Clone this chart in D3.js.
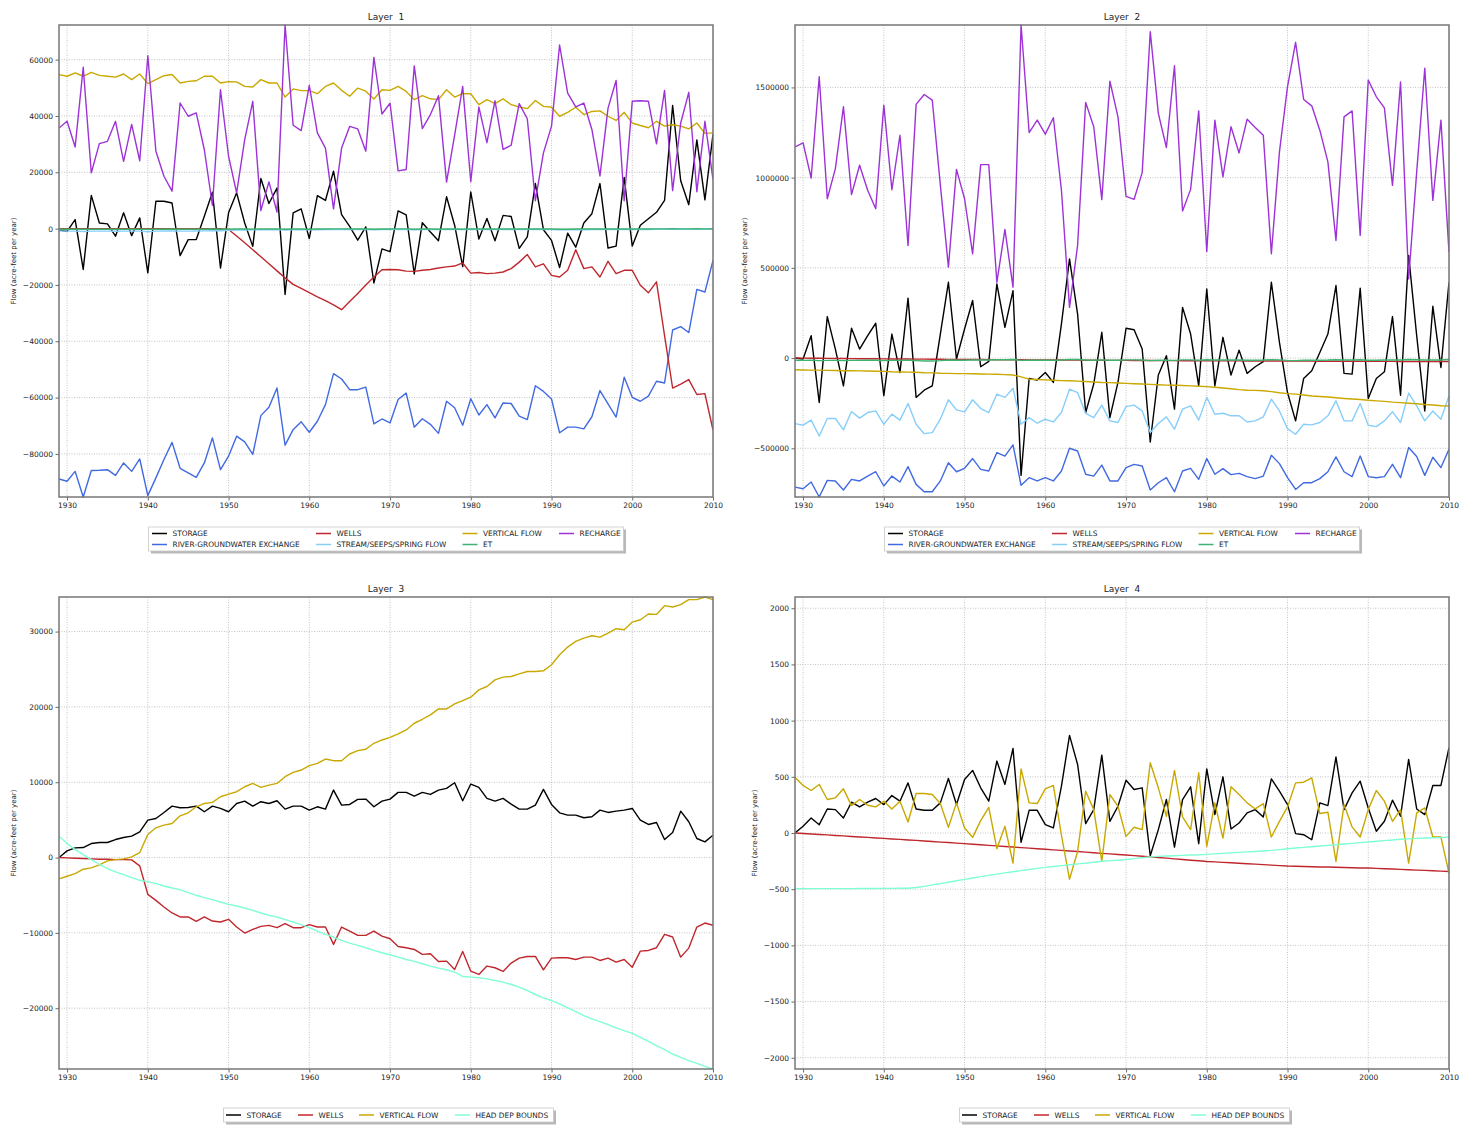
<!DOCTYPE html>
<html><head><meta charset="utf-8">
<script src="https://cdn.jsdelivr.net/npm/d3@7"></script>
<style>
body{margin:0;background:#fff}
text{font-family:"DejaVu Sans",sans-serif;fill:#222}
</style>
</head><body>
<svg id="chart" width="1461" height="1125"></svg>
<script>
// ---------------- DATA ----------------
const years = d3.range(1929, 2011);
const xTickYears = [1930, 1940, 1950, 1960, 1970, 1980, 1990, 2000, 2010];

const yTicksL1 = [-80000, -60000, -40000, -20000, 0, 20000, 40000, 60000];
const yTicksL2 = [-500000, 0, 500000, 1000000, 1500000];
const yTicksL3 = [-20000, -10000, 0, 10000, 20000, 30000];
const yTicksL4 = [-2000, -1500, -1000, -500, 0, 500, 1000, 1500, 2000];
const yLimitsL4 = [-2100, 2100];

// Layer 1
const l1Storage = [
 -500, -1000, 3200, -14500, 11800, 2000, 1700, -2700, 5600, -2500,
 3800, -15700, 9700, 9700, 9100, -9600, -3900, -3900, 4400, 12900,
 -14000, 5600, 12700, 2000, -6300, 17800, 8900, 14400, -23400, 5600,
 7000, -3500, 11700, 10000, 20400, 5000, 800, -4100, 600, -19300,
 -7200, -8200, 6300, 4900, -16100, 2100, -1200, -4300, 11300, 1200,
 -13500, 13000, -3700, 3600, -4300, 4700, 4300, -7000, -2900, 16000,
 -400, -4200, -13800, -1600, -6600, 2000, 5300, 16000, -6900, -6200,
 18200, -6200, 1200, 3500, 5800, 10000, 43700, 17000, 8500, 31500,
 10200, 33500];
const l1River = [
 -88900, -89700, -86200, -95300, -85900, -85800, -85600, -87600, -83200, -86200,
 -81800, -94800, -88500, -82000, -75900, -85100, -86700, -88300, -83200, -74300,
 -85600, -80800, -73700, -75700, -80200, -66400, -63400, -56600, -76900, -71400,
 -68600, -72300, -68400, -62500, -51500, -53400, -57200, -57200, -56300, -69300,
 -67600, -69000, -60700, -58400, -70500, -67500, -69500, -72700, -61300, -63600,
 -69800, -60400, -66200, -62500, -67200, -61900, -62100, -66600, -67800, -55800,
 -57800, -60500, -72500, -70500, -70500, -71100, -66800, -57500, -62200, -66900,
 -52800, -59900, -61300, -59500, -54200, -54800, -36000, -34800, -36900, -21600,
 -22500, -11300];
const l1Wells = [
 0, 0, 0, 0, 0, 0, 0, 0, 0, 0,
 0, 0, 0, 0, 0, 0, 0, 0, 0, 0,
 0, -300, -2600, -5000, -7500, -10000, -12500, -15000, -17500, -19800,
 -21200, -22700, -24200, -25600, -27100, -28800, -25900, -23000, -20000, -17200,
 -14600, -14500, -14600, -15100, -15200, -14800, -14500, -14000, -13600, -13300,
 -12200, -15800, -15600, -16000, -15800, -15400, -14200, -11900, -9200, -13600,
 -12500, -16600, -17200, -14800, -7500, -14200, -13600, -17200, -11600, -16000,
 -14800, -14800, -20100, -22800, -18900, -38000, -56600, -55200, -53600, -58900,
 -58600, -71500];
const l1Stream = [
 -800, -900, -900, -1000, -900, -900, -900, -950, -900, -900,
 -900, -1100, -900, -850, -800, -900, -900, -850, -800, -700,
 -750, -600, -500, -500, -450, -400, -400, -350, -500, -450,
 -400, -450, -400, -350, -300, -300, -350, -350, -300, -400,
 -350, -350, -300, -300, -400, -350, -350, -350, -300, -300,
 -350, -300, -350, -350, -350, -300, -300, -350, -350, -250,
 -300, -350, -400, -400, -400, -400, -350, -300, -350, -350,
 -250, -300, -300, -300, -250, -250, -200, -200, -250, -200,
 -200, -150];
const l1Vertical = [
 54700, 54100, 55300, 54100, 55500, 54400, 54100, 53800, 54900, 52900,
 54900, 51500, 52900, 54300, 54700, 51700, 52300, 52500, 54100, 54100,
 51700, 52200, 52100, 50500, 50300, 52900, 51700, 51700, 46700, 49600,
 49000, 49000, 47900, 50500, 51700, 49100, 47000, 49900, 48800, 46000,
 49300, 49100, 50500, 48700, 45800, 47200, 46100, 45800, 49300, 46700,
 47900, 47900, 44000, 45800, 44400, 46100, 44000, 43200, 42600, 45500,
 43400, 43100, 39900, 41300, 43100, 40500, 41600, 41800, 39900, 38400,
 41300, 37500, 36600, 35800, 38100, 36400, 36900, 36400, 35400, 37500,
 33800, 34000];
const l1Et = [
 -200, -250, -200, -250, -200, -200, -250, -200, -200, -250,
 -200, -250, -200, -200, -150, -200, -250, -250, -200, -150,
 -200, -200, -150, -150, -200, -150, -150, -100, -200, -150,
 -150, -200, -150, -150, -100, -100, -150, -150, -150, -200,
 -150, -150, -100, -100, -200, -150, -150, -200, -100, -150,
 -200, -100, -150, -150, -150, -150, -150, -150, -150, -100,
 -150, -150, -200, -200, -150, -150, -150, -100, -150, -150,
 -100, -150, -150, -150, -100, -100, -50, -100, -100, -50,
 -100, -50];
const l1Recharge = [
 35700, 38100, 29000, 57300, 19800, 30200, 31000, 38100, 23900, 37000,
 24100, 61400, 27500, 18600, 13300, 44600, 39900, 41100, 28000, 8300,
 49300, 25700, 12700, 31600, 45200, 6400, 16600, 5900, 72300, 36700,
 34800, 50900, 34000, 28600, 7000, 28600, 36300, 35400, 27500, 60800,
 40700, 44500, 20500, 21000, 57800, 35500, 40500, 47200, 16500, 33200,
 50500, 16700, 43200, 30500, 45400, 28100, 29600, 44400, 39000, 9900,
 26900, 36400, 65200, 48100, 43200, 44600, 35200, 18700, 42800, 52600,
 9900, 45200, 45400, 45200, 30100, 49100, 13500, 37500, 48400, 13100,
 38100, 17500];

// Layer 2
const l2Storage = [
 0, -5000, 124000, -246000, 230000, 50000, -154000, 165000, 50000, 124000,
 193000, -209000, 133000, -80000, 332000, -218000, -178000, -154000, 133000, 420000,
 -5000, 161000, 319000, -48000, -18000, 411000, 170000, 374000, -650000, -113000,
 -122000, -80000, -135000, 190000, 550000, 244000, -302000, -144000, 143000, -330000,
 -135000, 165000, 157000, 50000, -465000, -94000, 13000, -283000, 281000, 133000,
 -154000, 383000, -154000, 115000, -94000, 44000, -85000, -48000, -20000, 420000,
 87000, -191000, -348000, -113000, -70000, 31000, 133000, 402000, -85000, -89000,
 387000, -224000, -113000, -76000, 230000, -206000, 569000, 124000, -293000, 287000,
 -52000, 420000];
const l2River = [
 -715000, -724000, -687000, -770000, -678000, -681000, -731000, -672000, -681000, -654000,
 -630000, -709000, -654000, -687000, -602000, -700000, -741000, -741000, -681000, -580000,
 -630000, -611000, -557000, -617000, -626000, -524000, -543000, -481000, -705000, -663000,
 -681000, -663000, -681000, -626000, -500000, -515000, -644000, -654000, -593000, -681000,
 -681000, -607000, -589000, -598000, -731000, -691000, -663000, -741000, -626000, -611000,
 -672000, -557000, -644000, -613000, -646000, -639000, -657000, -668000, -654000, -539000,
 -585000, -663000, -728000, -691000, -691000, -668000, -630000, -548000, -630000, -657000,
 -543000, -657000, -663000, -657000, -589000, -663000, -496000, -546000, -650000, -550000,
 -607000, -506000];
const l2Wells = [
 0, -400, -900, -1300, -1800, -2200, -2600, -3000, -3400, -3700,
 -4100, -4400, -4800, -5100, -5500, -5800, -6100, -6500, -6800, -7100,
 -7400, -7700, -8000, -8300, -8600, -8900, -9200, -9400, -9700, -10000,
 -10200, -10500, -10800, -11000, -11300, -11500, -11800, -12000, -12300, -12500,
 -12800, -13000, -13200, -13500, -13700, -13900, -14100, -14300, -14500, -14700,
 -14900, -15100, -15300, -15400, -15600, -15800, -15900, -16100, -16300, -16400,
 -16600, -16800, -16900, -17100, -17200, -17400, -17500, -17600, -17800, -17900,
 -18000, -18200, -18300, -18400, -18500, -18700, -18800, -18900, -19000, -19100,
 -19200, -19300];
const l2Stream = [
 -363000, -372000, -344000, -432000, -335000, -335000, -398000, -296000, -333000, -302000,
 -293000, -367000, -311000, -344000, -252000, -367000, -419000, -413000, -339000, -231000,
 -287000, -298000, -231000, -280000, -302000, -200000, -218000, -167000, -367000, -330000,
 -361000, -339000, -354000, -302000, -172000, -191000, -307000, -330000, -261000, -348000,
 -357000, -269000, -261000, -293000, -413000, -363000, -326000, -394000, -283000, -265000,
 -344000, -218000, -311000, -306000, -320000, -320000, -354000, -348000, -326000, -228000,
 -293000, -391000, -422000, -367000, -370000, -357000, -320000, -237000, -348000, -348000,
 -252000, -372000, -380000, -348000, -298000, -357000, -194000, -265000, -348000, -293000,
 -339000, -209000];
const l2Vertical = [
 -65000, -66000, -67000, -67000, -68000, -69000, -70000, -70000, -71000, -72000,
 -73000, -74000, -76000, -77000, -78000, -79000, -81000, -82000, -84000, -85000,
 -86000, -86000, -87000, -88000, -89000, -90000, -92000, -94000, -104000, -117000,
 -119000, -121000, -123000, -125000, -126000, -128000, -130000, -133000, -135000, -136000,
 -138000, -140000, -142000, -144000, -146000, -148000, -150000, -151000, -152000, -154000,
 -156000, -158000, -162000, -166000, -170000, -175000, -178000, -179000, -181000, -186000,
 -192000, -197000, -200000, -205000, -210000, -213000, -216000, -220000, -224000, -227000,
 -230000, -234000, -237000, -240000, -244000, -247000, -250000, -253000, -257000, -260000,
 -264000, -266000];
const l2Et = [
 -12000, -13000, -12000, -14000, -13000, -13000, -14000, -13000, -13000, -12000,
 -12000, -14000, -13000, -13000, -12000, -14000, -16000, -16000, -14000, -11000,
 -12000, -12000, -10000, -11000, -11000, -9000, -9000, -8000, -13000, -12000,
 -12000, -12000, -12000, -11000, -8000, -8000, -11000, -12000, -10000, -12000,
 -12000, -10000, -10000, -11000, -14000, -12000, -12000, -13000, -10000, -10000,
 -12000, -9000, -11000, -11000, -11000, -11000, -12000, -12000, -11000, -9000,
 -10000, -13000, -14000, -12000, -12000, -12000, -11000, -9000, -11000, -11000,
 -9000, -12000, -12000, -11000, -10000, -11000, -8000, -9000, -11000, -10000,
 -11000, -8000];
const l2Recharge = [
 1170000, 1193000, 998000, 1559000, 883000, 1050000, 1393000, 906000, 1069000, 930000,
 828000, 1402000, 933000, 1235000, 624000, 1406000, 1461000, 1430000, 960000, 504000,
 1046000, 883000, 578000, 1072000, 1072000, 420000, 713000, 393000, 1846000, 1250000,
 1319000, 1241000, 1332000, 930000, 281000, 624000, 1417000, 1282000, 878000, 1535000,
 1337000, 896000, 880000, 1028000, 1809000, 1356000, 1167000, 1620000, 815000, 935000,
 1370000, 591000, 1319000, 1004000, 1282000, 1137000, 1324000, 1278000, 1235000, 578000,
 1143000, 1504000, 1750000, 1433000, 1398000, 1263000, 1087000, 652000, 1337000, 1370000,
 680000, 1541000, 1448000, 1387000, 957000, 1531000, 439000, 1032000, 1606000, 874000,
 1319000, 587000];

// Layer 3
const l3Storage = [
 0, 890, 1290, 1330, 1860, 2000, 2000, 2390, 2660, 2840,
 3410, 4970, 5190, 5990, 6830, 6610, 6650, 6830, 6080, 6830,
 6520, 6080, 7180, 7490, 6830, 7410, 7180, 7540, 6430, 6830,
 6830, 6300, 6740, 6430, 8960, 6960, 7050, 7720, 7760, 6740,
 7490, 7760, 8650, 8650, 8160, 8650, 8380, 8960, 9180, 9930,
 7540, 9760, 9310, 7850, 7490, 7850, 7100, 6430, 6430, 6960,
 9050, 7050, 5940, 5630, 5630, 5280, 5410, 6300, 5990, 6160,
 6300, 6520, 4970, 4390, 4660, 2390, 3330, 6160, 4750, 2530,
 2080, 2970];
const l3Wells = [
 0, -40, -90, -130, -180, -220, -220, -270, -270, -310,
 -1110, -4880, -5680, -6560, -7360, -7890, -7890, -8470, -7890, -8430,
 -8560, -8200, -9220, -10020, -9530, -9140, -9000, -9310, -8780, -9310,
 -9310, -8910, -9220, -9220, -11530, -9220, -9760, -10330, -10330, -9760,
 -10420, -10780, -11800, -11970, -12200, -12860, -12770, -13790, -13750, -14860,
 -12460, -15080, -15520, -14410, -14630, -15120, -14010, -13350, -13130, -13130,
 -14900, -13350, -13300, -13300, -13530, -13220, -13220, -13660, -13350, -13880,
 -13530, -14550, -12420, -12330, -11970, -10200, -10550, -13220, -12020, -9220,
 -8690, -9000];
const l3Vertical = [
 -2840, -2480, -2130, -1550, -1370, -980, -440, -270, -180, 90,
 670, 3060, 3950, 4300, 4520, 5540, 5940, 6740, 7180, 7320,
 8070, 8430, 8740, 9400, 9840, 9310, 9620, 9840, 10730, 11310,
 11620, 12200, 12510, 13080, 12860, 12860, 13750, 14190, 14370, 15170,
 15610, 15960, 16410, 16940, 17830, 18360, 18940, 19730, 19730, 20400,
 20840, 21290, 22260, 22710, 23590, 23950, 24040, 24390, 24700, 24700,
 24790, 25590, 26920, 27940, 28690, 29140, 29450, 29270, 29800, 30380,
 30240, 31260, 31570, 32330, 32280, 33440, 33260, 33570, 34240, 34240,
 34590, 34240];
const l3Head = [
 2840, 1860, 1060, 400, -270, -890, -1460, -1910, -2260, -2660,
 -3020, -3190, -3460, -3770, -4040, -4260, -4660, -5010, -5320, -5590,
 -5900, -6210, -6430, -6700, -7010, -7360, -7670, -7890, -8250, -8560,
 -8910, -9310, -9760, -10200, -10550, -11000, -11350, -11660, -11970, -12330,
 -12640, -12900, -13220, -13530, -13790, -14100, -14410, -14680, -14900, -15210,
 -15790, -15880, -15960, -16100, -16320, -16540, -16850, -17210, -17650, -18180,
 -18630, -18980, -19420, -19960, -20440, -20980, -21420, -21770, -22170, -22620,
 -22970, -23330, -23860, -24390, -24970, -25500, -26080, -26520, -26960, -27320,
 -27720, -28070];

// Layer 4
const l4Storage = [
 0, 60, 134, 74, 214, 208, 134, 274, 232, 274,
 307, 253, 333, 283, 446, 214, 202, 202, 268, 485,
 253, 476, 557, 402, 283, 640, 432, 753, -83, 202,
 202, 74, 45, 417, 869, 610, 83, 208, 693, 104,
 238, 470, 387, 402, -202, 30, 298, -125, 298, 411,
 -95, 571, 164, 500, 36, 89, 179, 208, 143, 482,
 372, 253, -6, -15, -60, 268, 244, 676, 208, 357,
 461, 223, 15, 104, 292, 149, 655, 214, 164, 423,
 423, 759];
const l4Wells = [
 0, -4, -9, -13, -17, -22, -26, -31, -35, -39,
 -44, -48, -53, -57, -62, -66, -71, -76, -81, -85,
 -90, -95, -100, -105, -110, -115, -120, -125, -130, -135,
 -140, -145, -150, -155, -160, -165, -170, -176, -181, -186,
 -191, -196, -201, -207, -212, -218, -224, -230, -236, -242,
 -247, -253, -257, -261, -265, -269, -273, -277, -281, -286,
 -290, -294, -296, -298, -300, -302, -303, -305, -307, -309,
 -311, -312, -315, -318, -321, -324, -327, -330, -333, -336,
 -339, -342];
const l4Vertical = [
 497, 423, 378, 432, 298, 313, 393, 244, 298, 247,
 232, 283, 214, 283, 98, 351, 351, 342, 262, 51,
 268, 45, -39, 110, 229, -140, 60, -268, 571, 268,
 262, 393, 423, -20, -411, -164, 372, 208, -253, 342,
 238, -30, 51, 30, 625, 402, 149, 557, 143, 30,
 536, -119, 268, -45, 411, 342, 268, 214, 262, -36,
 104, 232, 446, 452, 491, 173, 185, -253, 253, 54,
 -36, 208, 378, 283, 104, 208, -268, 179, 223, -36,
 -36, -357];
const l4Head = [
 -495, -495, -495, -495, -495, -495, -495, -495, -494, -494,
 -494, -493, -493, -492, -491, -485, -475, -462, -450, -438,
 -425, -413, -400, -388, -377, -366, -355, -345, -335, -325,
 -315, -306, -298, -290, -282, -275, -268, -260, -252, -246,
 -242, -236, -228, -220, -212, -208, -204, -202, -199, -196,
 -194, -190, -186, -181, -177, -172, -168, -164, -160, -155,
 -148, -140, -134, -128, -122, -116, -110, -104, -98, -92,
 -86, -80, -74, -68, -62, -56, -52, -48, -45, -42,
 -40, -36];

// ---------------- STYLE ----------------
const C = {
  storage: "#000000", river: "#4169e1", wells: "#c0272d", stream: "#87cefa",
  vertical: "#c9a800", et: "#3cb371", recharge: "#9d33d6", head: "#7fffd4"
};

const allArrays = {l1Storage,l1River,l1Wells,l1Stream,l1Vertical,l1Et,l1Recharge,
  l2Storage,l2River,l2Wells,l2Stream,l2Vertical,l2Et,l2Recharge,
  l3Storage,l3Wells,l3Vertical,l3Head,l4Storage,l4Wells,l4Vertical,l4Head};
for (const [k, v] of Object.entries(allArrays)) {
  if (v.length !== years.length) throw new Error(k + " length " + v.length);
}

const panels = [
  { title: "Layer  1", left: 59, top: 25, ticks: yTicksL1, ylabX: 14,
    series: [
      {name: "STORAGE", v: l1Storage, c: C.storage},
      {name: "RIVER-GROUNDWATER EXCHANGE", v: l1River, c: C.river},
      {name: "WELLS", v: l1Wells, c: C.wells},
      {name: "STREAM/SEEPS/SPRING FLOW", v: l1Stream, c: C.stream},
      {name: "VERTICAL FLOW", v: l1Vertical, c: C.vertical},
      {name: "ET", v: l1Et, c: C.et},
      {name: "RECHARGE", v: l1Recharge, c: C.recharge}],
    legend: {x: 148.5, y: 527, w: 475, h: 24, cols: [3.5, 167.5, 314, 410.5], rows: 2} },
  { title: "Layer  2", left: 795, top: 25, ticks: yTicksL2, ylabX: 745,
    series: [
      {name: "STORAGE", v: l2Storage, c: C.storage},
      {name: "RIVER-GROUNDWATER EXCHANGE", v: l2River, c: C.river},
      {name: "WELLS", v: l2Wells, c: C.wells},
      {name: "STREAM/SEEPS/SPRING FLOW", v: l2Stream, c: C.stream},
      {name: "VERTICAL FLOW", v: l2Vertical, c: C.vertical},
      {name: "ET", v: l2Et, c: C.et},
      {name: "RECHARGE", v: l2Recharge, c: C.recharge}],
    legend: {x: 884.5, y: 527, w: 475, h: 24, cols: [3.5, 167.5, 314, 410.5], rows: 2} },
  { title: "Layer  3", left: 59, top: 597, ticks: yTicksL3, ylabX: 14,
    series: [
      {name: "STORAGE", v: l3Storage, c: C.storage},
      {name: "WELLS", v: l3Wells, c: C.wells},
      {name: "VERTICAL FLOW", v: l3Vertical, c: C.vertical},
      {name: "HEAD DEP BOUNDS", v: l3Head, c: C.head}],
    legend: {x: 223.5, y: 1108, w: 330, h: 14, cols: [2.5, 74.5, 135.5, 231.5], rows: 1} },
  { title: "Layer  4", left: 795, top: 597, ticks: yTicksL4, ylabX: 755, ylim: yLimitsL4,
    series: [
      {name: "STORAGE", v: l4Storage, c: C.storage},
      {name: "WELLS", v: l4Wells, c: C.wells},
      {name: "VERTICAL FLOW", v: l4Vertical, c: C.vertical},
      {name: "HEAD DEP BOUNDS", v: l4Head, c: C.head}],
    legend: {x: 959.5, y: 1108, w: 330, h: 14, cols: [2.5, 74.5, 135.5, 231.5], rows: 1} }
];

const W = 654, H = 472;
const svg = d3.select("#chart");
svg.append("rect").attr("width", 1461).attr("height", 1125).attr("fill", "#fff");
const fmt = v => (v < 0 ? "\u2212" : "") + Math.abs(v);

panels.forEach(p => {
  const g = svg.append("g");
  const x = d3.scaleLinear().domain([1929, 2010]).range([p.left, p.left + W]);
  const allVals = p.series.flatMap(s => s.v);
  const y = d3.scaleLinear().domain(p.ylim || d3.extent(allVals)).range([p.top + H, p.top]);

  // grid
  g.selectAll(".gx").data(xTickYears).join("line")
    .attr("x1", d => x(d)).attr("x2", d => x(d)).attr("y1", p.top).attr("y2", p.top + H)
    .attr("stroke", "#b5b5b5").attr("stroke-width", 0.8).attr("stroke-dasharray", "1,1.5");
  g.selectAll(".gy").data(p.ticks).join("line")
    .attr("x1", p.left).attr("x2", p.left + W).attr("y1", d => y(d)).attr("y2", d => y(d))
    .attr("stroke", "#b5b5b5").attr("stroke-width", 0.8).attr("stroke-dasharray", "1,1.5");

  // lines
  const clipId = "clip" + p.left + "_" + p.top;
  svg.append("clipPath").attr("id", clipId).append("rect")
    .attr("x", p.left).attr("y", p.top - 1).attr("width", W).attr("height", H + 2);
  const line = d3.line().x((d, i) => x(years[i])).y(d => y(d));
  const lg = g.append("g").attr("clip-path", `url(#${clipId})`);
  p.series.forEach(s => {
    lg.append("path").datum(s.v).attr("d", line).attr("fill", "none")
      .attr("stroke", s.c).attr("stroke-width", 1.4).attr("stroke-linejoin", "round");
  });

  // axes
  const xAxis = d3.axisBottom(x).tickValues(xTickYears).tickFormat(d3.format("d")).tickSize(3.5).tickPadding(2);
  const gx = g.append("g").attr("transform", `translate(0,${p.top + H})`).call(xAxis);
  const yAxis = d3.axisLeft(y).tickValues(p.ticks).tickFormat(fmt).tickSize(3.5).tickPadding(2.5);
  const gy = g.append("g").attr("transform", `translate(${p.left},0)`).call(yAxis);
  [gx, gy].forEach(a => {
    a.select(".domain").remove();
    a.selectAll("line").attr("stroke", "#444").attr("stroke-width", 0.8);
    a.selectAll("text").attr("font-size", 7.5).attr("fill", "#222").style("font-family", "DejaVu Sans");
  });

  // frame
  g.append("rect").attr("x", p.left).attr("y", p.top).attr("width", W).attr("height", H)
    .attr("fill", "none").attr("stroke", "#777").attr("stroke-width", 1.5);

  // title
  g.append("text").attr("x", p.left + W / 2).attr("y", p.top - 5).attr("text-anchor", "middle")
    .attr("font-size", 9).style("white-space", "pre").text(p.title);

  // y label
  g.append("text").attr("transform", `translate(${p.ylabX},${p.top + H / 2}) rotate(-90)`)
    .attr("text-anchor", "middle").attr("dominant-baseline", "middle")
    .attr("font-size", 7).text("Flow (acre-feet per year)");

  // legend
  const L = p.legend;
  g.append("rect").attr("x", L.x + 2.5).attr("y", L.y + 2.5).attr("width", L.w).attr("height", L.h)
    .attr("fill", "#9a9a9a").attr("opacity", 0.7);
  g.append("rect").attr("x", L.x).attr("y", L.y).attr("width", L.w).attr("height", L.h)
    .attr("fill", "#fff").attr("stroke", "#c8c8c8").attr("stroke-width", 0.8);
  p.series.forEach((s, i) => {
    const col = Math.floor(i / L.rows), row = i % L.rows;
    const hx = L.x + L.cols[col];
    const yy = L.rows === 2 ? L.y + 6.5 + row * 11 : L.y + L.h / 2;
    g.append("line").attr("x1", hx).attr("x2", hx + 15).attr("y1", yy).attr("y2", yy)
      .attr("stroke", s.c).attr("stroke-width", 1.5);
    g.append("text").attr("x", hx + 20.5).attr("y", yy).attr("dominant-baseline", "central")
      .attr("font-size", 7.4).text(s.name);
  });
});
</script>
</body></html>
